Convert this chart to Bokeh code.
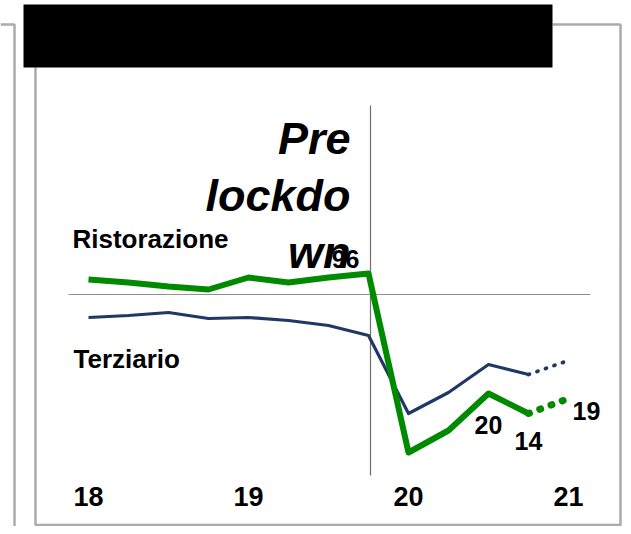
from bokeh.plotting import figure
from bokeh.models import Range1d
from bokeh.core.properties import value
from bokeh.embed import file_html
from bokeh.resources import INLINE

# ---- data ----
quarters = list(range(12))                 # quarterly index, 2018 Q1 .. 2020 Q4
proj_quarters = [11, 12]                   # projection 2020 Q4 -> 2021 Q1
ristorazione = [107.5, 106, 104, 102.5, 108.5, 106, 108.5, 110.5, 21, 32, 50.5, 40.5]
ristorazione_proj = [40.5, 48]
terziario = [88.5, 89.5, 91, 88, 88.5, 87, 84.5, 79.5, 40.5, 51, 65, 60]
terziario_proj = [60, 67]
year_labels = ["18", "19", "20", "21"]
year_pos = [0, 4, 8, 12]
value_labels = ["96", "20", "14", "19"]
value_idx = [7, 10, 11, 12]
reference_level = 100
lockdown_idx = 7.05

GREEN = "#008a00"
NAVY = "#1f3864"
GREY = "#ababab"
FONT = value("Liberation Sans")

W, H = 623, 526
p = figure(width=W, height=H, x_range=Range1d(0, W), y_range=Range1d(H, 0),
           output_backend="svg", toolbar_location=None, min_border=0,
           x_axis_location=None, y_axis_location=None)
p.grid.visible = False
p.outline_line_color = None
p.background_fill_color = "white"
p.extra_x_ranges = {"q": Range1d((0 - 88) / 40, (W - 88) / 40)}
p.extra_y_ranges = {"v": Range1d(100 - (H - 294) / 2, 100 + 294 / 2)}

# ---- decorative frames (pixel coordinates) ----
p.line([0, 14, 14], [24, 24, 540], line_color=GREY, line_width=2.5)
p.line([552, 620, 620], [24, 24, 540], line_color=GREY, line_width=2.5)
p.line([35, 35, 620], [67, 524.5, 524.5], line_color=GREY, line_width=2.5)
p.quad(left=[23], right=[552], top=[4], bottom=[67], fill_color="black", line_color=None)

# ---- reference lines ----
p.line([-0.5, 12.55], [reference_level, reference_level], x_range_name="q", y_range_name="v",
       line_color="#909090", line_width=1.2)
p.line([lockdown_idx, lockdown_idx], [194.5, 9.5], x_range_name="q", y_range_name="v",
       line_color="#707070", line_width=1.2)

# ---- series ----
p.line(quarters, terziario, x_range_name="q", y_range_name="v",
       line_color=NAVY, line_width=3.2, line_join="round")
p.line(proj_quarters, terziario_proj, x_range_name="q", y_range_name="v",
       line_color=NAVY, line_width=3.8, line_dash="1 8", line_cap="round")
p.line(quarters, ristorazione, x_range_name="q", y_range_name="v",
       line_color=GREEN, line_width=6, line_join="round")
p.line(proj_quarters, ristorazione_proj, x_range_name="q", y_range_name="v",
       line_color=GREEN, line_width=7, line_dash="1 11", line_cap="round")

# ---- year labels ----
p.text(x=year_pos, y=[496] * len(year_pos), text=year_labels, x_range_name="q",
       text_font=FONT, text_font_style="bold", text_font_size="27px",
       text_align="center", text_baseline="alphabetic", text_color="black")

# ---- series names ----
p.text(x=[72], y=[238], text=["Ristorazione"], text_font=FONT, text_font_style="bold",
       text_font_size="26px", text_baseline="alphabetic", text_color="black")
p.text(x=[73], y=[358], text=["Terziario"], text_font=FONT, text_font_style="bold",
       text_font_size="26px", text_baseline="alphabetic", text_color="black")

# ---- Pre lockdown ----
p.text(x=[350, 350, 350], y=[138, 195, 252], text=["Pre", "lockdo", "wn"],
       text_font=FONT, text_font_style="bold italic", text_font_size="45px",
       text_align="right", text_baseline="alphabetic", text_color="black")

# ---- value labels on Ristorazione ----
all_q = quarters + [12]
all_v = ristorazione + [ristorazione_proj[-1]]
offsets = [(-9, -15, "right"), (0, 31, "center"), (0, 27, "center"), (4, 12, "left")]
for lab, idx, (dx, dy, al) in zip(value_labels, value_idx, offsets):
    p.text(x=[all_q[idx]], y=[all_v[idx]], text=[lab], x_range_name="q", y_range_name="v",
           x_offset=dx, y_offset=dy, text_align=al, text_baseline="alphabetic",
           text_font=FONT, text_font_style="bold", text_font_size="25px", text_color="black")

open("out.html", "w").write(file_html(p, INLINE))
